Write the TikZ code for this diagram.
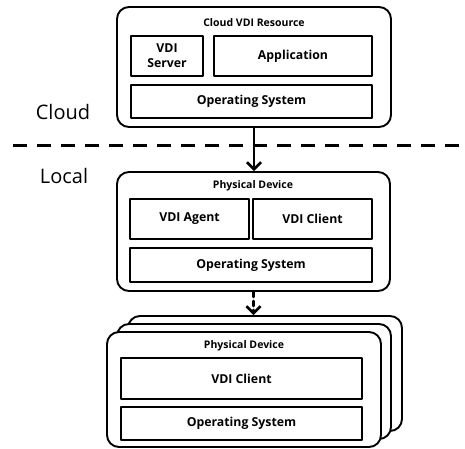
\documentclass[tikz,border=0pt]{standalone}
\usepackage{fontspec}
\setmainfont{Open Sans}
\usetikzlibrary{arrows.meta}
\begin{document}
\begin{tikzpicture}[x=1pt, y=-1pt, line join=round, line cap=round,
	outer/.style={draw, line width=1.9pt, rounded corners=12pt, fill=white, inner sep=0pt},
	inner/.style={draw, line width=1.9pt, inner sep=0pt, font=\fontsize{12.3}{15}\selectfont\bfseries, align=center},
	title/.style={font=\fontsize{10.5}{12}\selectfont\bfseries},
	side/.style={font=\fontsize{20}{22}\selectfont},
	flow/.style={line width=2.6pt, -{Straight Barb[length=7pt,width=14pt]}}]
	\useasboundingbox (0,0) rectangle (465,448);
	% Cloud
	\node[outer, minimum width=274pt, minimum height=120pt] (cloud) at (254,67) {};
	\node[title] (cloudt) at (254,23) {Cloud VDI Resource};
	\node[inner, minimum width=72pt, minimum height=40pt] (server) at (167,56) {VDI\\Server};
	\node[inner, minimum width=158pt, minimum height=40pt] (app) at (293,56) {Application};
	\node[inner, minimum width=241pt, minimum height=33pt] (os1) at (251.5,101.5) {Operating System};
	% Trennlinie
	\coordinate (l) at (13,145);
	\coordinate (r) at (465,145);
	\draw[line width=3pt, line cap=butt, dash pattern=on 14pt off 10pt] (l)--(r);
	\node[side] (cl) at (63,112) {Cloud};
	\node[side] (lo) at (64,176) {Local};
	% Local
	\node[outer, minimum width=273pt, minimum height=119pt] (dev) at (253.5,231.5) {};
	\node[title] (devt) at (253,186) {Physical Device};
	\node[inner, minimum width=119pt, minimum height=40pt] (agent) at (189.5,219) {VDI Agent};
	\node[inner, minimum width=119pt, minimum height=40pt] (client) at (312.5,219) {VDI Client};
	\node[inner, minimum width=242pt, minimum height=34pt] (os2) at (251,265) {Operating System};
	% Stapel
	\foreach \i/\dx/\dy in {3/21/-16, 2/10/-8, 1/0/0}
		\node[outer, minimum width=274pt, minimum height=115pt] (st\i) at (244+\dx,389.5+\dy) {};
	\node[title] (stt) at (244,346) {Physical Device};
	\node[inner, minimum width=241pt, minimum height=41pt] (client2) at (241.5,378.5) {VDI Client};
	\node[inner, minimum width=241pt, minimum height=33pt] (os3) at (241.5,423.5) {Operating System};
	% Pfeile
	\draw[flow] (cloud.south) -- (cloud.south |- dev.north);
	\draw[flow, dash pattern=on 5pt off 4pt] (dev.south) -- (dev.south |- st3.north);
\end{tikzpicture}
\end{document}
